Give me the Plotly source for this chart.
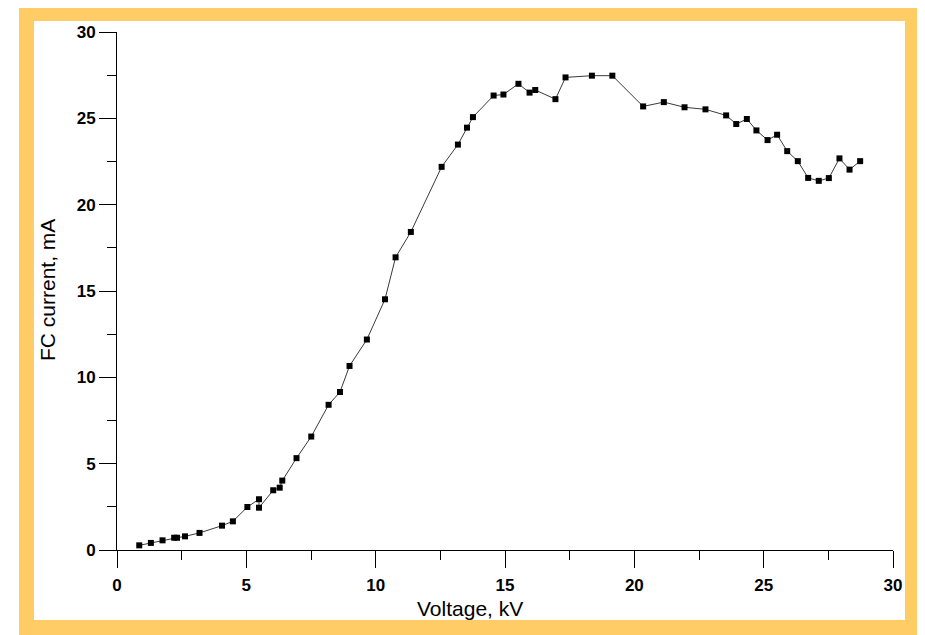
import plotly.graph_objects as go

voltage_kv = [0.86, 1.31, 1.76, 2.21, 2.32, 2.63, 3.19, 4.06, 4.48, 5.04, 5.49, 5.49,
              6.04, 6.29, 6.39, 6.94, 7.51, 8.18, 8.62, 8.99, 9.66, 10.36, 10.77, 11.36,
              12.55, 13.18, 13.53, 13.76, 14.56, 14.94, 15.52, 15.95, 16.17, 16.95, 17.34,
              18.36, 19.15, 20.34, 21.14, 21.94, 22.75, 23.55, 23.94, 24.35, 24.72, 25.15,
              25.52, 25.91, 26.32, 26.72, 27.13, 27.52, 27.93, 28.32, 28.73]
fc_current_ma = [0.27, 0.41, 0.56, 0.71, 0.71, 0.79, 0.99, 1.41, 1.66, 2.49, 2.94, 2.45,
                 3.46, 3.61, 4.02, 5.32, 6.57, 8.41, 9.15, 10.66, 12.19, 14.52, 16.95, 18.42,
                 22.19, 23.48, 24.46, 25.07, 26.32, 26.38, 27.0, 26.49, 26.64, 26.11, 27.37,
                 27.47, 27.47, 25.69, 25.94, 25.64, 25.52, 25.17, 24.67, 24.96, 24.30, 23.74,
                 24.05, 23.10, 22.52, 21.55, 21.38, 21.54, 22.68, 22.03, 22.52]

x_ticks = [0, 5, 10, 15, 20, 25, 30]
y_ticks = [0, 5, 10, 15, 20, 25, 30]

OFF = 8  # page body margin
W, H = 925 - OFF, 635 - OFF
L, R, T, B = 117 - OFF, 32, 32 - OFF, 85
PW, PH = W - L - R, H - T - B

def px(x):
    return (x - OFF - L) / PW

def py(y):
    return (H - B - (y - OFF)) / PH

ORANGE = "#FFCC66"
FONT = "Arial, Liberation Sans"

fig = go.Figure()
fig.add_trace(go.Scatter(
    x=voltage_kv, y=fc_current_ma, mode="lines+markers",
    line=dict(color="#3a3a3a", width=1),
    marker=dict(symbol="square", size=6, color="black"),
    showlegend=False, cliponaxis=False,
))

shapes = []
for (x0, y0, x1, y1) in [(19, 5, 921, 21), (19, 620, 921, 640), (19, 5, 34, 640), (905, 5, 921, 640)]:
    shapes.append(dict(type="rect", xref="paper", yref="paper",
                       x0=px(x0), x1=px(x1), y0=py(y1), y1=py(y0),
                       fillcolor=ORANGE, line=dict(width=0), layer="below"))

axis_common = dict(
    showgrid=False, zeroline=False, showline=True, linecolor="black", linewidth=1,
    ticks="outside", ticklen=17, tickwidth=1, tickcolor="black",
    minor=dict(ticks="outside", ticklen=9, tickwidth=1, tickcolor="black", dtick=2.5),
    range=[0, 30],
    tickfont=dict(family=FONT, size=17, color="black", weight="bold"),
)

annotations = [
    dict(text="Voltage, kV", xref="paper", yref="paper", x=px(470), y=py(609),
         showarrow=False, xanchor="center", yanchor="middle",
         font=dict(family=FONT, size=21, color="black")),
    dict(text="FC current, mA", xref="paper", yref="paper", x=px(47), y=py(290),
         showarrow=False, xanchor="center", yanchor="middle", textangle=-90,
         font=dict(family=FONT, size=21, color="black")),
]

fig.update_layout(
    width=W, height=H,
    margin=dict(l=L, r=R, t=T, b=B, autoexpand=False),
    paper_bgcolor="white", plot_bgcolor="white",
    shapes=shapes, annotations=annotations,
    xaxis=dict(**axis_common, tickvals=x_ticks, ticklabelstandoff=3),
    yaxis=dict(**axis_common, tickvals=y_ticks),
)

fig.write_html("out.html")
